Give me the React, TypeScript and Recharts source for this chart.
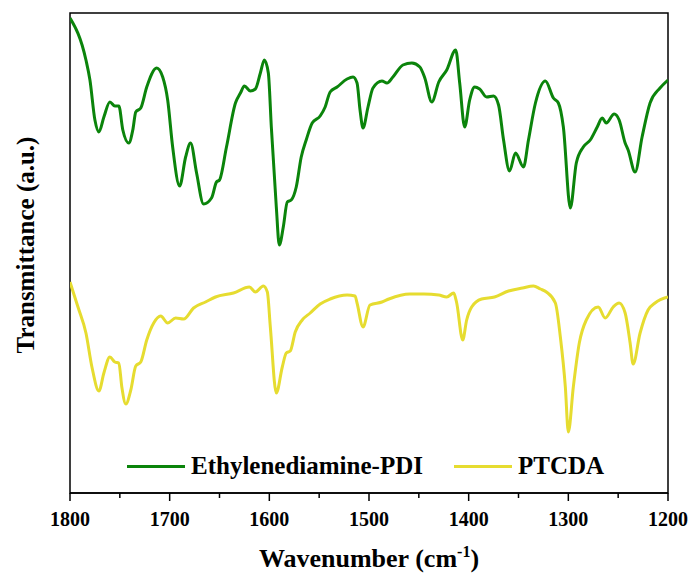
import { LineChart, Line, XAxis, YAxis, ReferenceArea, Legend } from 'recharts';

const serif = "'Liberation Serif', 'Times New Roman', serif";

// wavenumber (cm-1) and transmittance (a.u., offset stacked)
const pdiWave = [
  1800, 1784, 1780, 1775, 1771, 1766, 1760, 1755, 1751, 1747, 1741, 1737, 1734, 1729, 1723, 1713, 1707, 1702, 1697, 1690,
  1684, 1679, 1673, 1666, 1658, 1653, 1650, 1643, 1634, 1629, 1625, 1619, 1614, 1609, 1605, 1601, 1598, 1593, 1590, 1586,
  1582, 1578, 1573, 1568, 1563, 1557, 1549, 1544, 1539, 1532, 1522, 1516, 1512, 1509, 1506, 1501, 1496, 1487, 1482, 1476,
  1466, 1457, 1449, 1444, 1437, 1430, 1422, 1413, 1409, 1404, 1399, 1394, 1389, 1382, 1375, 1370, 1365, 1359, 1353, 1345,
  1340, 1333, 1323, 1315, 1310, 1305, 1298, 1292, 1285, 1278, 1271, 1266, 1262, 1254, 1249, 1243, 1240, 1233, 1226, 1218,
  1208, 1200,
];
const pdiValues = [
  475, 433, 413, 373, 361, 376, 391, 387, 387, 363, 350, 363, 381, 385, 406, 425, 416, 393, 346, 307,
  336, 350, 320, 289, 295, 311, 313, 346, 390, 400, 407, 402, 404, 420, 433, 420, 366, 286, 248, 266,
  291, 293, 306, 336, 353, 370, 377, 386, 401, 406, 414, 416, 410, 383, 365, 386, 405, 412, 410, 416,
  428, 430, 426, 415, 391, 411, 423, 443, 410, 366, 393, 406, 404, 396, 397, 388, 353, 322, 340, 326,
  353, 390, 412, 395, 390, 366, 285, 330, 346, 353, 366, 375, 370, 379, 373, 350, 343, 321, 356, 390,
  405, 413,
];

const ptcdaWave = [
  1800, 1792, 1784, 1778, 1771, 1766, 1760, 1755, 1751, 1748, 1744, 1739, 1734, 1729, 1723, 1716, 1709, 1702, 1694, 1686,
  1676, 1664, 1654, 1636, 1620, 1614, 1606, 1602, 1599, 1593, 1587, 1583, 1579, 1574, 1567, 1559, 1549, 1539, 1522, 1514,
  1512, 1506, 1499, 1487, 1480, 1459, 1445, 1430, 1422, 1415, 1412, 1406, 1402, 1397, 1387, 1374, 1360, 1346, 1335, 1328,
  1322, 1313, 1308, 1303, 1300, 1295, 1289, 1282, 1270, 1263, 1255, 1249, 1243, 1238, 1235, 1228, 1220, 1213, 1200,
];
const ptcdaValues = [
  211, 186, 160, 126, 102, 120, 136, 131, 130, 106, 89, 103, 127, 131, 153, 170, 177, 170, 175, 174,
  185, 191, 196, 200, 206, 201, 207, 201, 166, 100, 126, 140, 142, 161, 173, 180, 189, 194, 198, 197,
  190, 166, 188, 191, 194, 199, 199, 198, 196, 200, 190, 153, 173, 186, 194, 196, 202, 205, 207, 204,
  201, 190, 156, 106, 61, 106, 150, 173, 186, 175, 186, 190, 180, 150, 129, 160, 183, 190, 196,
];

const seriesNames = ['Ethylenediamine-PDI', 'PTCDA'];
const seriesColors = ['#0b840b', '#e6dc30'];
const xTicks = [1800, 1750, 1700, 1650, 1600, 1550, 1500, 1450, 1400, 1350, 1300, 1250, 1200];

const pdiData = pdiWave.map((w, i) => ({ w, t: pdiValues[i] }));
const ptcdaData = ptcdaWave.map((w, i) => ({ w, t: ptcdaValues[i] }));

function WaveTick(props: any) {
  const { x, y, payload } = props;
  const major = payload.value % 100 === 0;
  return (
    <g>
      <line x1={x} y1={y} x2={x} y2={y + (major ? 8 : 5)} stroke="#000" strokeWidth={1.5} />
      {major && (
        <text x={x} y={y + 33} textAnchor="middle" fontFamily={serif} fontWeight="bold" fontSize={20} fill="#000">
          {payload.value}
        </text>
      )}
    </g>
  );
}

function XTitle(props: any) {
  const vb = props.viewBox;
  return (
    <text x={vb.x + vb.width / 2} y={vb.y + 74} textAnchor="middle" fontFamily={serif} fontWeight="bold" fontSize={26} fill="#000">
      Wavenumber (cm<tspan dy={-10} fontSize={16}>-1</tspan><tspan dy={10}>)</tspan>
    </text>
  );
}

function YTitle(props: any) {
  const vb = props.viewBox;
  const cx = vb.x + 34;
  const cy = vb.y + vb.height / 2 - 8;
  return (
    <text transform={`translate(${cx},${cy}) rotate(-90)`} textAnchor="middle" fontFamily={serif} fontWeight="bold" fontSize={25} fill="#000">
      Transmittance (a.u.)
    </text>
  );
}

function LegendBox() {
  return (
    <div style={{ display: 'flex', alignItems: 'center', fontFamily: serif, fontWeight: 'bold', fontSize: 25, color: '#000' }}>
      {seriesNames.map((name, i) => (
        <div key={name} style={{ display: 'flex', alignItems: 'center', marginLeft: i === 0 ? 0 : 31 }}>
          <span style={{ display: 'inline-block', width: 58, height: 3, background: seriesColors[i] }} />
          <span style={{ marginLeft: 6, lineHeight: '28px' }}>{name}</span>
        </div>
      ))}
    </div>
  );
}

export default function App() {
  return (
    <div style={{ position: 'absolute', left: 0, top: 0, background: '#fff' }}>
      <LineChart width={692} height={574} margin={{ top: 13, right: 24, left: 0, bottom: 0 }}>
        <XAxis
          dataKey="w"
          type="number"
          domain={[1200, 1800]}
          reversed
          ticks={xTicks}
          interval={0}
          height={81}
          tickSize={0}
          tickMargin={0}
          tickLine={false}
          axisLine={{ stroke: '#000', strokeWidth: 1.5 }}
          tick={<WaveTick />}
          allowDataOverflow
          label={<XTitle />}
        />
        <YAxis
          type="number"
          domain={[0, 480]}
          width={70}
          tick={false}
          tickLine={false}
          axisLine={false}
          allowDataOverflow
          label={<YTitle />}
        />
        <ReferenceArea x1={1800} x2={1200} y1={0} y2={480} fill="none" stroke="#000" strokeWidth={1.5} ifOverflow="visible" />
        <Line
          data={pdiData}
          dataKey="t"
          name={seriesNames[0]}
          type="monotone"
          stroke={seriesColors[0]}
          strokeWidth={3}
          dot={false}
          isAnimationActive={false}
        />
        <Line
          data={ptcdaData}
          dataKey="t"
          name={seriesNames[1]}
          type="monotone"
          stroke={seriesColors[1]}
          strokeWidth={3}
          dot={false}
          isAnimationActive={false}
        />
        <Legend
          layout="horizontal"
          verticalAlign="middle"
          content={<LegendBox />}
          wrapperStyle={{ left: 127, top: 452, width: 'auto' }}
        />
      </LineChart>
    </div>
  );
}
